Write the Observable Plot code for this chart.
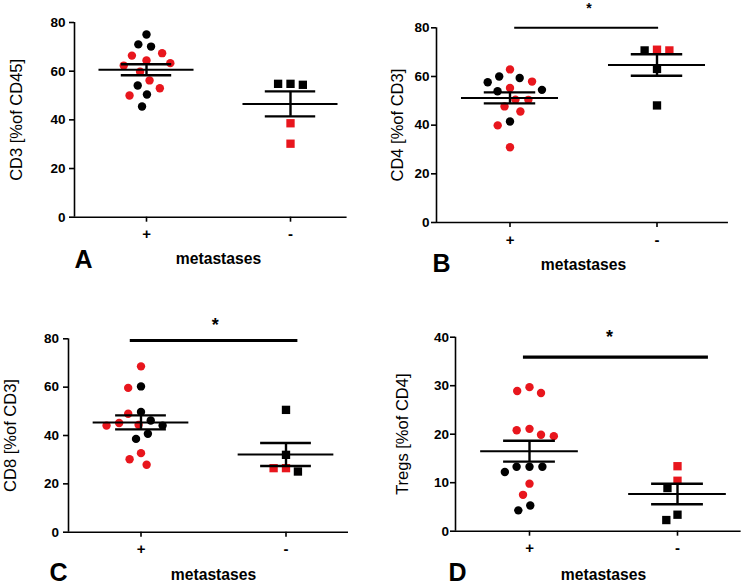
<!DOCTYPE html>
<html>
<head>
<meta charset="utf-8">
<script src="https://cdn.jsdelivr.net/npm/d3@7"></script>
<script src="https://cdn.jsdelivr.net/npm/@observablehq/plot@0.6"></script>
<style>
html, body { margin: 0; padding: 0; background: #fff; overflow: hidden; width: 749px; height: 587px; }
#fig { position: relative; width: 749px; height: 587px; overflow: hidden; }
.panel { position: absolute; }
.panel svg { max-width: none; overflow: visible; display: block; }
</style>
</head>
<body>
<div id="fig"></div>
<script>
// ---- categories ----
const groups = ["+", "-"];               // metastases
const subsets = ["subset 1", "subset 2"]; // black, red points
const xTitle = "metastases";

// ---- Panel A: CD3 [% of CD45] ----
const A_plus_black  = [75.1, 71.0, 70.1, 54.1, 50.4, 45.5];
const A_plus_red    = [67.4, 66.4, 64.4, 63.3, 62.3, 59.8, 56.2, 53.0, 50.0];
const A_minus_black = [54.8, 54.4, 54.8];
const A_minus_red   = [38.6, 30.2];
const A_ticks = [0, 20, 40, 60, 80];

// ---- Panel B: CD4 [% of CD3] ----
const B_plus_black  = [60.0, 59.4, 57.6, 54.5, 53.9, 41.5];
const B_plus_red    = [62.9, 57.9, 55.3, 50.5, 50.4, 47.7, 45.6, 39.9, 30.9];
const B_minus_black = [70.7, 63.1, 48.1];
const B_minus_red   = [71.0, 70.7];
const B_ticks = [0, 20, 40, 60, 80];
const B_sig = [{from: "+", to: "-", y: 80, label: "*"}];

// ---- Panel C: CD8 [% of CD3] ----
const C_plus_black  = [60.3, 49.7, 46.2, 44.1, 40.7, 38.6];
const C_plus_red    = [68.6, 59.7, 49.0, 45.2, 44.4, 44.1, 32.7, 30.2, 27.9];
const C_minus_black = [50.6, 32.0, 25.1];
const C_minus_red   = [26.5, 26.5];
const C_ticks = [0, 20, 40, 60, 80];
const C_sig = [{from: "+", to: "-", y: 79.3, label: "*"}];

// ---- Panel D: Tregs [% of CD4] ----
const D_plus_black  = [13.3, 13.3, 13.3, 12.2, 5.3, 4.3];
const D_plus_red    = [29.7, 28.9, 28.5, 21.1, 20.8, 19.9, 19.6, 9.8, 7.5];
const D_minus_black = [8.9, 3.4, 2.3];
const D_minus_red   = [13.4, 10.4];
const D_ticks = [0, 10, 20, 30, 40];
const D_sig = [{from: "+", to: "-", y: 35.9, label: "*"}];

const panels = [
  {id: "A", yLabel: "CD3 [%of CD45]", yMax: 80, ticks: A_ticks, pb: A_plus_black, pr: A_plus_red, mb: A_minus_black, mr: A_minus_red, sig: null,
   L: {left: 0, top: 0, width: 380, height: 290, ml: 73, mt: 22, y0: 216.7, fw: 144.6, axisEnd: 1.893, tickPad: 4,
       ylabDx: -58, xlabDy: 41.5, letDx: 0, letDy: 42.6}},
  {id: "B", yLabel: "CD4 [%of CD3]", yMax: 80, ticks: B_ticks, pb: B_plus_black, pr: B_plus_red, mb: B_minus_black, mr: B_minus_red, sig: B_sig,
   L: {left: 370, top: 0, width: 379, height: 290, ml: 65.7, mt: 27.3, y0: 222, fw: 147.2, axisEnd: 1.986, tickPad: 2,
       ylabDx: -38.7, xlabDy: 42, letDx: -4, letDy: 41.5,
       sigX1: 0.532, sigX2: 1.511, sigW: 2, starX: 1.037, starDy: -19, starSize: 14}},
  {id: "C", yLabel: "CD8 [%of CD3]", yMax: 80, ticks: C_ticks, pb: C_plus_black, pr: C_plus_red, mb: C_minus_black, mr: C_minus_red, sig: C_sig,
   L: {left: 0, top: 290, width: 370, height: 297, ml: 68.3, mt: 48.3, y0: 241.7, fw: 145, axisEnd: 1.931, tickPad: 4.5,
       ylabDx: -57.6, xlabDy: 42.5, letDx: -19, letDy: 41,
       sigX1: 0.426, sigX2: 1.582, sigW: 3, starX: 1.012, starDy: -15.7, starSize: 18}},
  {id: "D", yLabel: "Tregs [%of CD4]", yMax: 40, ticks: D_ticks, pb: D_plus_black, pr: D_plus_red, mb: D_minus_black, mr: D_minus_red, sig: D_sig,
   L: {left: 370, top: 290, width: 381, height: 297, ml: 85, mt: 46.7, y0: 240.7, fw: 148, axisEnd: 1.930, tickPad: 1.5,
       ylabDx: -52.7, xlabDy: 43.5, letDx: -7, letDy: 42,
       sigX1: 0.459, sigX2: 1.709, sigW: 3.2, starX: 1.04, starDy: -19.7, starSize: 18}}
];

const RED = "#e8161d";
const FONT = "'Liberation Sans', Arial, Helvetica, sans-serif";
const MW = 0.33, SW = 0.175; // half-widths of mean line and SEM caps (facet units)
const TICK = 5;

function rows(g, black, red) {
  return [
    ...black.map(v => ({g, v, s: subsets[0]})),
    ...red.map(v => ({g, v, s: subsets[1]}))
  ].sort((a, b) => b.v - a.v);
}

const fig = document.getElementById("fig");

for (const p of panels) {
  const L = p.L;
  const plus = rows(groups[0], p.pb, p.pr);
  const minus = rows(groups[1], p.mb, p.mr);
  const stats = [plus, minus].map(arr => {
    const vals = arr.map(d => d.v);
    const m = d3.mean(vals);
    const se = d3.deviation(vals) / Math.sqrt(vals.length);
    return {g: arr[0].g, mean: m, lo: m - se, hi: m + se};
  });
  const anchor = [{g: groups[0]}];
  const mr = L.width - L.ml - 2 * L.fw;

  const marks = [
    // axis lines and ticks
    Plot.ruleX(anchor, {fx: "g", x: 0, stroke: "#000", strokeWidth: 1.6}),
    Plot.ruleY(anchor, {fx: "g", y: 0, x1: 0, x2: L.axisEnd, stroke: "#000", strokeWidth: 1.6}),
    Plot.axisY({ticks: p.ticks, tickSize: TICK, tickFormat: () => "", label: null, strokeWidth: 1.6}),
    Plot.axisFx({anchor: "bottom", tickSize: TICK, tickFormat: () => "", label: null, strokeWidth: 1.6}),
    // tick labels
    Plot.text(p.ticks, {fx: () => groups[0], y: d => d, text: d => String(d), frameAnchor: "left", textAnchor: "end",
      dx: -(TICK + L.tickPad), fontSize: 13.5, fontWeight: "bold"}),
    Plot.text(groups, {fx: d => d, text: d => d, frameAnchor: "bottom", lineAnchor: "top", dy: TICK + 6.5, fontSize: 15, fontWeight: "bold"}),
    // titles
    Plot.text([p.yLabel], {facet: "super", frameAnchor: "left", textAnchor: "middle", lineAnchor: "middle", rotate: -90, dx: L.ylabDx, fontSize: 16.5, fontWeight: "normal"}),
    Plot.text([xTitle], {facet: "super", frameAnchor: "bottom", lineAnchor: "middle", dy: L.xlabDy, fontSize: 15.7, fontWeight: "bold"}),
    Plot.text([p.id], {facet: "super", frameAnchor: "bottom-left", textAnchor: "start", lineAnchor: "middle", dx: L.letDx, dy: L.letDy, fontSize: 25, fontWeight: "bold"}),
    // points
    Plot.dot(plus, Plot.dodgeX({anchor: "middle", padding: 4.5}, {fx: "g", y: "v", fill: "s", r: 4.2, symbol: "circle"})),
    Plot.dot(minus, Plot.dodgeX({anchor: "middle", padding: 3}, {fx: "g", y: "v", fill: "s", r: 4.7, symbol: "square"})),
    // mean +/- SEM
    Plot.ruleY(stats, {fx: "g", y: "mean", x1: 0.5 - MW, x2: 0.5 + MW, stroke: "#000", strokeWidth: 2}),
    Plot.ruleY(stats, {fx: "g", y: "hi", x1: 0.5 - SW, x2: 0.5 + SW, stroke: "#000", strokeWidth: 2.4}),
    Plot.ruleY(stats, {fx: "g", y: "lo", x1: 0.5 - SW, x2: 0.5 + SW, stroke: "#000", strokeWidth: 2.4}),
    Plot.ruleX(stats, {fx: "g", x: 0.5, y1: "lo", y2: "hi", stroke: "#000", strokeWidth: 2.4})
  ];
  if (p.sig) {
    marks.push(
      Plot.ruleY(p.sig, {fx: "from", y: "y", x1: L.sigX1, x2: L.sigX2, stroke: "#000", strokeWidth: L.sigW}),
      Plot.text(p.sig, {fx: "from", y: "y", x: L.starX, text: "label", dy: L.starDy, fontSize: L.starSize, fontWeight: "bold"})
    );
  }

  const chart = Plot.plot({
    width: L.width,
    height: L.height,
    marginLeft: L.ml,
    marginRight: mr,
    marginTop: L.mt,
    marginBottom: L.height - L.y0,
    style: {fontFamily: FONT, fontSize: "13px", color: "#000", background: "transparent", overflow: "visible"},
    fx: {domain: groups, padding: 0},
    x: {domain: [0, 1], axis: null},
    y: {domain: [0, p.yMax]},
    color: {domain: subsets, range: ["#000000", RED]},
    marks
  });
  const div = document.createElement("div");
  div.className = "panel";
  div.style.left = L.left + "px";
  div.style.top = L.top + "px";
  div.appendChild(chart);
  fig.appendChild(div);
}
</script>
</body>
</html>
